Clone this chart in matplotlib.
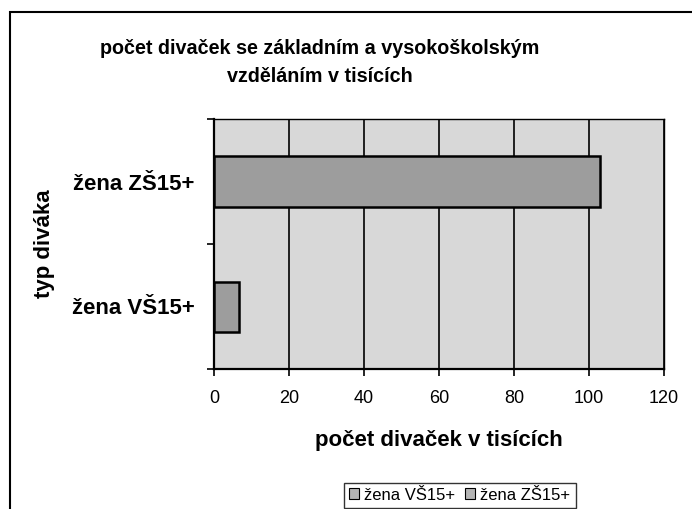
import matplotlib
matplotlib.use("Agg")
import matplotlib.pyplot as plt
from matplotlib.patches import Rectangle, Patch

# data (thousands of female viewers)
categories = ["žena VŠ15+", "žena ZŠ15+"]
values = [6.7, 103.0]
x_ticks = [0, 20, 40, 60, 80, 100, 120]

title = "počet divaček se základním a vysokoškolským\nvzděláním v tisících"
x_label = "počet divaček v tisících"
y_label = "typ diváka"

plt.rcParams['font.family'] = ['Liberation Sans', 'DejaVu Sans']

fig = plt.figure(figsize=(6.92, 5.09), dpi=100)
ax = fig.add_axes([214 / 692, 1 - 369 / 509, 450 / 692, 250 / 509])

# outer chart frame (cut off at right and bottom)
fig.patches.append(Rectangle((10 / 692, -0.1), 1.2, (509 - 12) / 509 + 0.1,
                             transform=fig.transFigure, fill=False,
                             edgecolor='black', linewidth=1.5))

ax.set_facecolor('#d8d8d8')
ypos = list(range(len(categories)))
ax.barh(ypos, values, height=0.4, color='#9d9d9d', edgecolor='black',
        linewidth=1.8, zorder=3)

ax.set_xlim(0, 120)
ax.set_ylim(-0.5, 1.5)
ax.set_xticks(x_ticks)
ax.set_xticklabels([str(t) for t in x_ticks], fontsize=13)
ax.xaxis.grid(True, color='black', linewidth=1.2, zorder=1)
ax.set_axisbelow(True)
ax.tick_params(axis='x', direction='out', length=5, width=1.2, pad=10)

ax.set_yticks(ypos)
ax.set_yticklabels(categories, fontsize=16, fontweight='bold')
ax.set_yticks([-0.5, 0.5, 1.5], minor=True)
ax.tick_params(axis='y', which='major', length=0, pad=14)
ax.tick_params(axis='y', which='minor', direction='out', length=5, width=1.2)

for s in ax.spines.values():
    s.set_color('black')
    s.set_linewidth(1.0)
ax.spines['left'].set_linewidth(1.6)
ax.spines['bottom'].set_linewidth(1.6)

ax.set_xlabel(x_label, fontsize=16, fontweight='bold', labelpad=17)
ax.set_ylabel(y_label, fontsize=16, fontweight='bold', labelpad=12)

fig.text(320 / 692, 1 - 62 / 509, title, ha='center', va='center',
         fontsize=14.2, fontweight='bold', linespacing=1.6)

handles = [Patch(facecolor='#b5b5b5', edgecolor='black', linewidth=0.8),
           Patch(facecolor='#b5b5b5', edgecolor='black', linewidth=0.8)]
leg = fig.legend(handles, categories, loc='center', ncol=2,
                 bbox_to_anchor=(460 / 692, 1 - 495 / 509), fontsize=12,
                 frameon=True, fancybox=False, edgecolor='black',
                 handlelength=0.6, handleheight=0.6, handletextpad=0.3,
                 columnspacing=0.6, borderpad=0.3, borderaxespad=0)
leg.get_frame().set_linewidth(1.0)

fig.savefig("out.png", dpi=100)
